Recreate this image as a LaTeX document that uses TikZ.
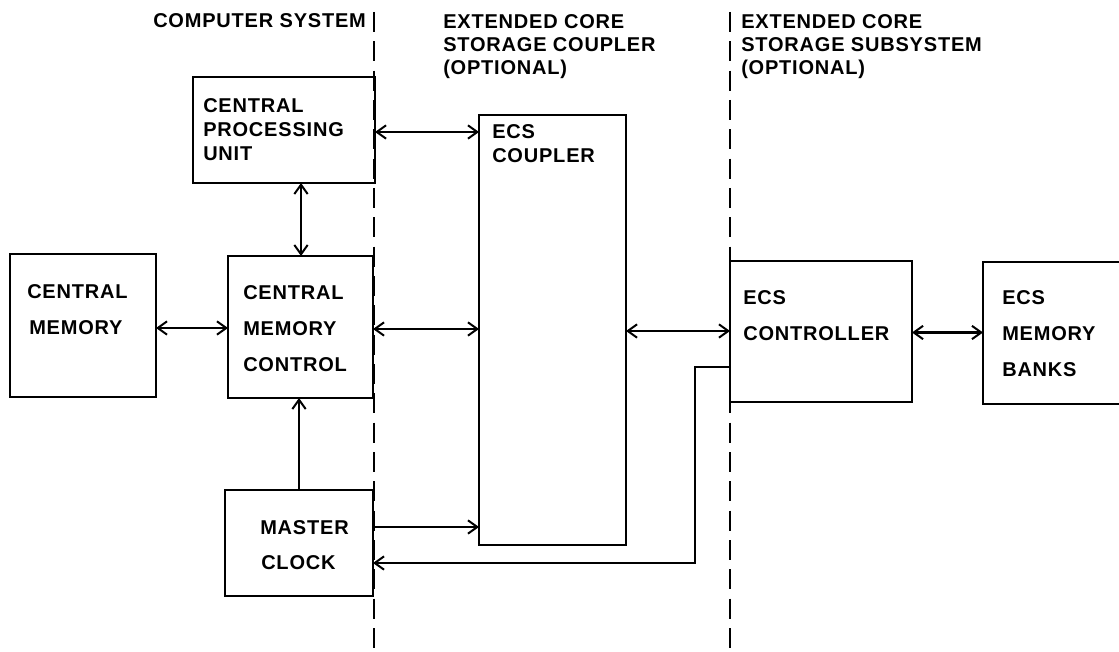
\documentclass[tikz,border=0pt]{standalone}
\usepackage{fontspec}
\newfontfamily\lettering{Liberation Sans Bold}[LetterSpace=4]
\usetikzlibrary{arrows.meta,calc}
\begin{document}
\begin{tikzpicture}[x=0.75pt,y=-0.75pt,
  box/.style={draw, line width=1.6pt, inner sep=0pt, outer sep=0pt},
  lbl/.style={font=\lettering\fontsize{15}{18}\selectfont, anchor=base west, inner sep=0pt},
  tip/.tip={Straight Barb[length=7pt,width=10pt,line width=1.5pt]},
  conn/.style={line width=1.6pt, -tip},
  biconn/.style={line width=1.6pt, tip-tip},
  divider/.style={line width=1.6pt, dash pattern=on 15pt off 7pt}]
\useasboundingbox (0,0) rectangle (1119,652);
\clip (0,0) rectangle (1119,652);
% boxes
\node[box, minimum width=136.5pt, minimum height=79.5pt] (cpu) at (284,130) {};
\node[box, minimum width=109.5pt, minimum height=107.25pt] (cm) at (83,325.5) {};
\node[box, minimum width=108.75pt, minimum height=106.5pt] (cmc) at (300.5,327) {};
\node[box, minimum width=111pt, minimum height=79.5pt] (mc) at (299,543) {};
\node[box, minimum width=110.25pt, minimum height=322.5pt] (cpl) at (552.5,330) {};
\node[box, minimum width=136.5pt, minimum height=105.75pt] (ecsc) at (821,331.5) {};
\node[box, minimum width=110.25pt, minimum height=106.5pt] (mb) at (1056.5,333) {};
% dividers
\coordinate (d1t) at (374,12); \coordinate (d1b) at (374,652);
\coordinate (d2t) at (730,12); \coordinate (d2b) at (730,652);
\draw[divider] (d1t) -- (d1b);
\draw[divider] (d2t) -- (d2b);
% texts
\node[lbl] (t1) at (153,28) {COMPUTER SYSTEM};
\node[lbl] (t2a) at (443,29) {EXTENDED CORE};
\node[lbl] (t2b) at (443,52) {STORAGE COUPLER};
\node[lbl] (t2c) at (443,75) {(OPTIONAL)};
\node[lbl] (t3a) at (741,29) {EXTENDED CORE};
\node[lbl] (t3b) at (741,52) {STORAGE SUBSYSTEM};
\node[lbl] (t3c) at (741,75) {(OPTIONAL)};
\node[lbl] (cpu1) at (203,113) {CENTRAL};
\node[lbl] (cpu2) at (203,137) {PROCESSING};
\node[lbl] (cpu3) at (203,161) {UNIT};
\node[lbl] (cm1) at (27,298) {CENTRAL};
\node[lbl] (cm2) at (29,334) {MEMORY};
\node[lbl] (cmc1) at (243,299) {CENTRAL};
\node[lbl] (cmc2) at (243,335) {MEMORY};
\node[lbl] (cmc3) at (243,371) {CONTROL};
\node[lbl] (mc1) at (260,534) {MASTER};
\node[lbl] (mc2) at (261,569) {CLOCK};
\node[lbl] (cpl1) at (492,139) {ECS};
\node[lbl] (cpl2) at (492,163) {COUPLER};
\node[lbl] (ecsc1) at (743,304) {ECS};
\node[lbl] (ecsc2) at (743,340) {CONTROLLER};
\node[lbl] (mb1) at (1002,304) {ECS};
\node[lbl] (mb2) at (1002,340) {MEMORY};
\node[lbl] (mb3) at (1002,376) {BANKS};
% connectors
\draw[biconn] ($(cpu.east)+(0,2)$) -- ($(cpu.east -| cpl.west)+(0,2)$);
\draw[biconn] ($(cmc.north)+(0.5,0)$) -- ($(cmc.north |- cpu.south)+(0.5,0)$);
\draw[biconn] ($(cm.east)+(0,2.5)$) -- ($(cm.east -| cmc.west)+(0,2.5)$);
\draw[biconn] ($(cmc.east)+(0,2)$) -- ($(cmc.east -| cpl.west)+(0,2)$);
\draw[conn] (mc.north) -- (mc.north |- cmc.south);
\draw[conn] ($(mc.east)+(0,-16)$) -- ($(mc.east -| cpl.west)+(0,-16)$);
\draw[biconn] ($(ecsc.west -| cpl.east)+(0,-0.5)$) -- ($(ecsc.west)+(0,-0.5)$);
\draw[biconn] ($(ecsc.east)+(0,1)$) -- ($(ecsc.east -| mb.west)+(0,1)$);
\draw[conn] ($(ecsc.west)+(0,35.5)$) -- ++(-35,0) |- ($(mc.east)+(0,20)$);
\end{tikzpicture}
\end{document}
